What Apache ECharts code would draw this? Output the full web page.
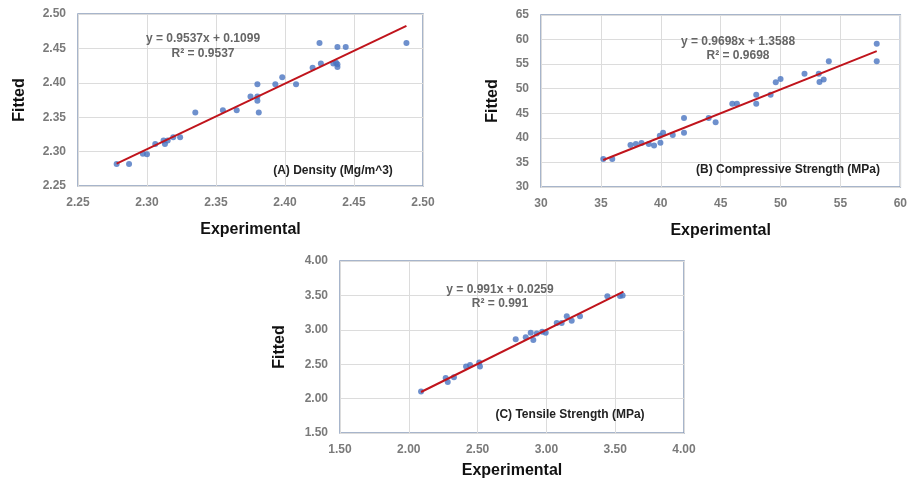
<!DOCTYPE html>
<html><head><meta charset="utf-8">
<script src="https://cdn.jsdelivr.net/npm/echarts@6/dist/echarts.min.js"></script>
<style>html,body{margin:0;padding:0;background:#fff}#c{width:910px;height:481px}</style>
</head><body><div id="c"></div>
<script>
// (A) Density
const densityPoints = [
  [2.278,2.282],[2.287,2.282],[2.297,2.297],[2.300,2.296],[2.306,2.311],[2.312,2.316],
  [2.313,2.311],[2.315,2.316],[2.319,2.321],[2.324,2.321],[2.335,2.357],[2.355,2.360],
  [2.365,2.360],[2.375,2.380],[2.380,2.380],[2.380,2.374],[2.380,2.398],[2.381,2.357],
  [2.393,2.398],[2.398,2.408],[2.408,2.398],[2.420,2.422],[2.425,2.458],[2.426,2.428],
  [2.435,2.428],[2.437,2.429],[2.438,2.452],[2.438,2.427],[2.438,2.423],[2.444,2.452],
  [2.488,2.458]
];
const densityTrend = [[2.278,2.2825],[2.488,2.4827]];
// (B) Compressive strength
const compPoints = [
  [35.2,35.7],[35.95,35.7],[37.47,38.53],[37.92,38.74],[38.39,38.94],[39.0,38.74],
  [39.44,38.47],[39.92,40.45],[39.97,39.0],[40.19,41.05],[41.0,40.58],[41.94,44.06],
  [41.94,41.05],[44.0,44.06],[44.58,43.17],[45.97,46.92],[46.36,46.92],[47.97,48.77],
  [47.97,46.92],[49.17,48.77],[49.6,51.3],[50.0,52.0],[52.0,53.06],[53.19,53.06],
  [53.25,51.36],[53.6,51.9],[54.03,55.59],[58.03,59.13],[58.03,55.59]
];
const compTrend = [[35.2,35.496],[58.03,57.635]];
// (C) Tensile strength
const tensPoints = [
  [2.089,2.104],[2.268,2.298],[2.283,2.24],[2.328,2.312],[2.416,2.465],[2.445,2.49],
  [2.512,2.523],[2.517,2.465],[2.777,2.861],[2.85,2.89],[2.886,2.956],[2.905,2.851],
  [2.93,2.948],[2.97,2.971],[2.995,2.956],[3.075,3.10],[3.111,3.10],[3.148,3.198],
  [3.184,3.13],[3.244,3.198],[3.443,3.487],[3.535,3.49],[3.554,3.50]
];
const tensTrend = [[2.089,2.096],[3.56,3.554]];

const xTicksA = {min:2.25,max:2.50,interval:0.05};
const yTicksA = {min:2.25,max:2.50,interval:0.05};
const xTicksB = {min:30,max:60,interval:5};
const yTicksB = {min:30,max:65,interval:5};
const xTicksC = {min:1.5,max:4.0,interval:0.5};
const yTicksC = {min:1.5,max:4.0,interval:0.5};

const FONT = '"Liberation Sans", Arial, sans-serif';
const tickLabel = (dec) => ({color:'#7a7a7a', fontSize:12, fontWeight:'bold', fontFamily:FONT,
  formatter: v => dec ? Number(v).toFixed(dec) : String(Math.round(v))});
const nameStyle = {color:'#111', fontSize:16, fontWeight:'bold', fontFamily:FONT};

function xAx(i, t, dec, gap){
  return {type:'value', gridIndex:i, min:t.min, max:t.max, interval:t.interval,
    name:'Experimental', nameLocation:'middle', nameGap:gap, nameTextStyle:nameStyle,
    axisLine:{show:false}, axisTick:{show:false}, axisLabel:Object.assign({margin:11},tickLabel(dec)),
    splitLine:{show:true, lineStyle:{color:'#dcdcdc', width:1}}};
}
function yAx(i, t, dec, gap){
  return {type:'value', gridIndex:i, min:t.min, max:t.max, interval:t.interval,
    name:'Fitted', nameLocation:'middle', nameGap:gap, nameTextStyle:nameStyle,
    axisLine:{show:false}, axisTick:{show:false}, axisLabel:Object.assign({margin:12},tickLabel(dec)),
    splitLine:{show:true, lineStyle:{color:'#dcdcdc', width:1}}};
}
const gridStyle = {show:true, borderColor:'#8a9dbb', borderWidth:1.5, backgroundColor:'#fff'};
function scat(i, d){
  return {type:'scatter', xAxisIndex:i, yAxisIndex:i, data:d, symbolSize:6,
    itemStyle:{color:'#4a74c0'}, z:3};
}
function trend(i, d){
  return {type:'line', xAxisIndex:i, yAxisIndex:i, data:d, showSymbol:false, symbol:'none',
    lineStyle:{color:'#c0141c', width:2}, z:4};
}
const eqStyle = {fill:'#666', fontSize:12, fontWeight:'bold', fontFamily:FONT, align:'center'};
const lblStyle = {fill:'#222', fontSize:12, fontWeight:'bold', fontFamily:FONT, align:'center'};

const chart = echarts.init(document.getElementById('c'));
chart.setOption({
  animation:false,
  grid:[
    Object.assign({left:78, top:14, width:345, height:172}, gridStyle),
    Object.assign({left:541, top:15, width:360, height:172}, gridStyle),
    Object.assign({left:340, top:261, width:344, height:172}, gridStyle)
  ],
  xAxis:[xAx(0,xTicksA,2,36), xAx(1,xTicksB,0,36), xAx(2,xTicksC,2,30)],
  yAxis:[yAx(0,yTicksA,2,50), yAx(1,yTicksB,0,40), yAx(2,yTicksC,2,52)],
  series:[scat(0,densityPoints), trend(0,densityTrend),
          scat(1,compPoints), trend(1,compTrend),
          scat(2,tensPoints), trend(2,tensTrend)],
  graphic:[
    {type:'text', x:203, y:33, style:Object.assign({text:'y = 0.9537x + 0.1099'},eqStyle), z:10},
    {type:'text', x:203, y:48, style:Object.assign({text:'R² = 0.9537'},eqStyle), z:10},
    {type:'text', x:333, y:165, style:Object.assign({text:'(A) Density (Mg/m^3)'},lblStyle), z:10},
    {type:'text', x:738, y:36, style:Object.assign({text:'y = 0.9698x + 1.3588'},eqStyle), z:10},
    {type:'text', x:738, y:50, style:Object.assign({text:'R² = 0.9698'},eqStyle), z:10},
    {type:'text', x:788, y:164, style:Object.assign({text:'(B) Compressive Strength (MPa)'},lblStyle), z:10},
    {type:'text', x:500, y:284, style:Object.assign({text:'y = 0.991x + 0.0259'},eqStyle), z:10},
    {type:'text', x:500, y:298, style:Object.assign({text:'R² = 0.991'},eqStyle), z:10},
    {type:'text', x:570, y:409, style:Object.assign({text:'(C) Tensile Strength (MPa)'},lblStyle), z:10}
  ]
});
</script></body></html>
